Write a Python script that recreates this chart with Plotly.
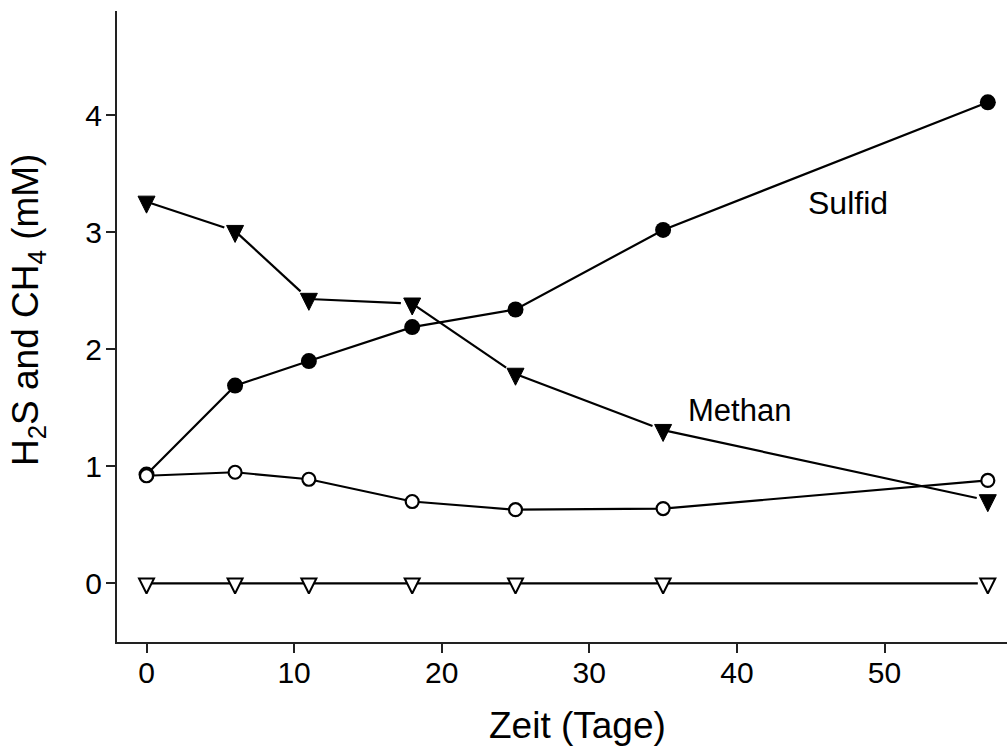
import plotly.graph_objects as go

# Sampling days
days = [0, 6, 11, 18, 25, 35, 57]

# Concentrations in mM
sulfid = [0.93, 1.69, 1.90, 2.19, 2.34, 3.02, 4.11]
methan = [3.26, 3.01, 2.43, 2.39, 1.79, 1.31, 0.71]
sulfid_ctrl = [0.92, 0.95, 0.89, 0.70, 0.63, 0.64, 0.88]
methan_ctrl = [0.0, 0.0, 0.0, 0.0, 0.0, 0.0, 0.0]

x_ticks = [0, 10, 20, 30, 40, 50]
y_ticks = [0, 1, 2, 3, 4]

FONT = "Liberation Sans, Arial, sans-serif"
INK = "#000000"
AXIS = "#222222"

fig = go.Figure()

# Triangles use the arrow glyph, shifted so that the triangle's centroid
# sits on the data value.
TRI_FILLED = 17
TRI_OPEN = 15

fig.add_trace(go.Scatter(
    x=days, y=sulfid, mode="lines+markers", name="Sulfid",
    line=dict(color=INK, width=2.2),
    marker=dict(symbol="circle", size=16, color=INK, line=dict(width=0)),
))
fig.add_trace(go.Scatter(
    x=days, y=methan, mode="lines+markers", name="Methan",
    line=dict(color=INK, width=2.2),
    marker=dict(symbol="arrow-down", size=TRI_FILLED, color=INK,
                line=dict(color=INK, width=1),
                standoff=TRI_FILLED * 2 / 3),
))
fig.add_trace(go.Scatter(
    x=days, y=sulfid_ctrl, mode="lines+markers", name="Sulfid (Kontrolle)",
    line=dict(color=INK, width=2.2),
    marker=dict(symbol="circle", size=13, color="white",
                line=dict(color=INK, width=2.2)),
))
fig.add_trace(go.Scatter(
    x=days, y=methan_ctrl, mode="lines+markers", name="Methan (Kontrolle)",
    line=dict(color=INK, width=2.2),
    marker=dict(symbol="arrow-down", size=TRI_OPEN, color="white",
                line=dict(color=INK, width=2),
                standoff=TRI_OPEN * 2 / 3),
))

axis_common = dict(
    showline=True, linecolor=AXIS, linewidth=2,
    ticks="outside", ticklen=9, tickwidth=1.5, tickcolor=AXIS,
    showgrid=False, zeroline=False,
    tickfont=dict(family=FONT, size=30, color=INK),
)

fig.update_layout(
    width=1007, height=749,
    margin=dict(l=117, r=0, t=11, b=107),
    paper_bgcolor="white", plot_bgcolor="white",
    showlegend=False,
    xaxis=dict(range=[-2, 58.3], tickvals=x_ticks, ticklabelstandoff=-6,
               **axis_common),
    yaxis=dict(range=[-0.5, 4.89], tickvals=y_ticks, ticklabelstandoff=-2,
               **axis_common),
    annotations=[
        dict(text="Sulfid", x=47.5, y=3.25, xref="x", yref="y",
             showarrow=False, font=dict(family=FONT, size=32, color=INK)),
        dict(text="Methan", x=40.2, y=1.475, xref="x", yref="y",
             showarrow=False, font=dict(family=FONT, size=31, color=INK)),
        dict(text="Zeit (Tage)", x=0.517, y=-0.132, xref="paper", yref="paper",
             xanchor="center", yanchor="middle", showarrow=False,
             font=dict(family=FONT, size=37, color=INK)),
        dict(text="H<sub>2</sub>S and CH<sub>4</sub> (mM)",
             x=-0.1, y=0.526, xref="paper", yref="paper",
             xanchor="center", yanchor="middle", textangle=-90,
             showarrow=False, font=dict(family=FONT, size=37, color=INK)),
    ],
)

fig.write_html("out.html")
